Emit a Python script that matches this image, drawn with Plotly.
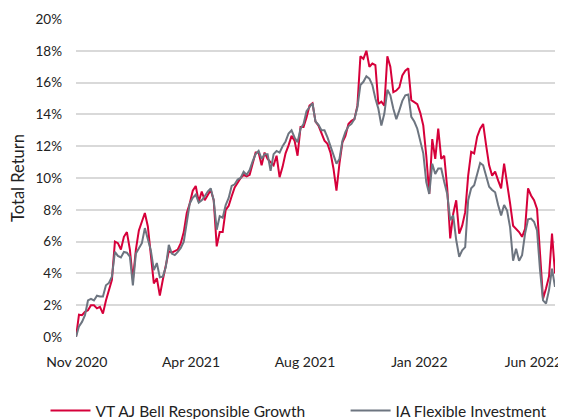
import plotly.graph_objects as go

vt_ajbell = [
    0, 1.4, 1.37, 1.58, 1.68, 2.0, 2.0, 1.8, 1.9, 1.47,
    2.3, 2.95, 3.6, 6.0, 5.9, 5.5, 6.3, 6.6, 5.5, 3.6,
    5.5, 6.7, 7.3, 7.8, 6.95, 5.05, 3.37, 3.7, 2.6, 3.6,
    4.5, 5.4, 5.3, 5.4, 5.5, 5.9, 6.6, 7.8, 8.4, 9.2,
    9.5, 8.5, 9.15, 8.6, 8.9, 9.25, 8.6, 5.7, 6.6, 6.6,
    8.0, 8.25, 8.85, 9.4, 9.7, 10.0, 10.2, 10.1, 10.2, 10.9,
    11.6, 11.6, 10.8, 11.6, 11.2, 11.0, 10.8, 11.4, 10.05, 10.7,
    11.55, 12.05, 12.65, 12.35, 11.4, 13.2, 13.2, 13.8, 14.55, 14.7,
    13.55, 13.3, 12.8, 12.35, 12.15, 11.6, 10.6, 9.2, 10.9, 12.25,
    12.65, 13.4, 13.6, 13.7, 14.55, 17.65, 17.5, 18.0, 17.0, 17.2,
    17.1, 14.65, 14.8, 14.55, 17.65, 17.0, 15.4, 15.5, 15.7, 16.45,
    16.75, 16.9, 14.9, 14.8, 14.65, 14.1, 13.3, 11.4, 9.0, 12.45,
    11.2, 13.1, 11.2, 11.4, 9.35, 6.2, 7.75, 8.6, 6.5, 7.0,
    7.85, 10.15, 11.65, 11.55, 12.6, 13.1, 13.4, 12.05, 10.8, 10.15,
    10.4, 9.85, 9.35, 10.9, 9.75, 8.4, 7.0, 6.8, 6.6, 6.3,
    6.8, 9.35, 8.9, 8.6, 8.05, 5.25, 2.4, 3.05, 3.8, 6.5,
    4.0,
]
ia_flexible = [
    0, 0.67, 0.95, 1.37, 2.3, 2.4, 2.3, 2.6, 2.55, 2.55,
    3.25, 3.4, 3.8, 5.35, 5.1, 5.0, 5.35, 5.3, 5.05, 3.25,
    5.25, 5.55, 5.9, 6.85, 6.1, 5.45, 4.2, 4.65, 3.75, 3.8,
    4.4, 5.8, 5.25, 5.15, 5.35, 5.6, 6.0, 7.35, 8.4, 8.75,
    8.95, 8.45, 8.6, 8.85, 9.15, 9.35, 8.6, 6.75, 7.6, 7.5,
    8.3, 8.75, 9.5, 9.6, 9.9, 10.0, 10.4, 10.2, 10.5, 11.05,
    11.5, 11.7, 11.2, 11.5, 11.5, 10.45, 11.5, 11.7, 11.6, 12.0,
    12.3, 12.8, 13.0, 12.55, 12.25, 13.1, 13.4, 14.2, 14.45, 14.7,
    13.55, 13.35, 13.0, 13.0, 12.55, 11.95, 11.5, 10.9, 11.2, 12.35,
    12.9, 13.25, 13.4, 13.7, 14.45, 15.85, 16.05, 16.4, 16.25, 15.85,
    15.0, 14.35, 13.3, 14.05, 15.55, 15.2, 14.35, 13.7, 14.25, 14.85,
    15.2, 15.25, 13.85, 13.55, 13.1, 12.4, 11.55, 9.75, 9.0, 10.9,
    10.25, 10.6, 10.6, 9.75, 9.0, 7.35, 7.65, 6.1, 5.05, 5.45,
    5.65, 8.6, 9.35, 9.55, 10.25, 10.95, 10.8, 10.1, 9.45, 9.25,
    9.1, 8.3, 7.65, 8.3, 7.95, 6.9, 4.8, 5.55, 4.8, 5.15,
    6.5, 7.4, 7.45, 7.25, 6.7, 4.2, 2.3, 2.1, 2.95, 4.3,
    3.15,
]
x_index = list(range(len(vt_ajbell)))

tick_positions = [0.3, 38.4, 76.5, 114.7, 152.8]
tick_labels = ["Nov 2020", "Apr 2021", "Aug 2021", "Jan 2022", "Jun 2022"]
y_ticks = list(range(0, 21, 2))

series_names = ["VT AJ Bell Responsible Growth", "IA Flexible Investment"]
red = "#D6003A"
grey = "#6D7580"
FONT = "Lato, 'Source Sans Pro', 'Noto Sans', sans-serif"

# The page body has an 8px margin, so the figure is sized to fill the rest of the window.
W, H = 558, 411

fig = go.Figure()
fig.add_trace(go.Scatter(x=x_index, y=vt_ajbell, mode="lines", name=series_names[0],
                         line=dict(color=red, width=2), legend="legend"))
fig.add_trace(go.Scatter(x=x_index, y=ia_flexible, mode="lines", name=series_names[1],
                         line=dict(color=grey, width=2), legend="legend2"))

legend_common = dict(orientation="h", xref="container", yref="container",
                     xanchor="left", yanchor="top", y=0.061,
                     font=dict(size=15.5, color="#222222"), itemwidth=40,
                     bgcolor="rgba(0,0,0,0)")

fig.update_layout(
    width=W, height=H,
    margin=dict(l=68, r=11, t=11, b=82, autoexpand=False),
    paper_bgcolor="white", plot_bgcolor="white",
    font=dict(family=FONT, color="#222222", size=14),
    showlegend=True,
    legend=dict(x=0.0672, **legend_common),
    legend2=dict(x=0.605, **legend_common),
    xaxis=dict(range=[0, 160], tickmode="array", tickvals=tick_positions,
               ticktext=tick_labels, showgrid=False, zeroline=False,
               showline=False, ticks="", tickfont=dict(size=14),
               ticklabelstandoff=15, automargin=False),
    yaxis=dict(range=[0, 20], tickmode="array", tickvals=y_ticks,
               ticktext=[f"{v}%" for v in y_ticks],
               showgrid=True, gridcolor="#D9D9D9", gridwidth=1.5,
               zeroline=False, showline=False, ticks="",
               tickfont=dict(size=13.5), ticklabelstandoff=13, automargin=False,
               title=dict(text="Total Return", font=dict(size=16.5), standoff=7)),
)

fig.write_html("out.html")
